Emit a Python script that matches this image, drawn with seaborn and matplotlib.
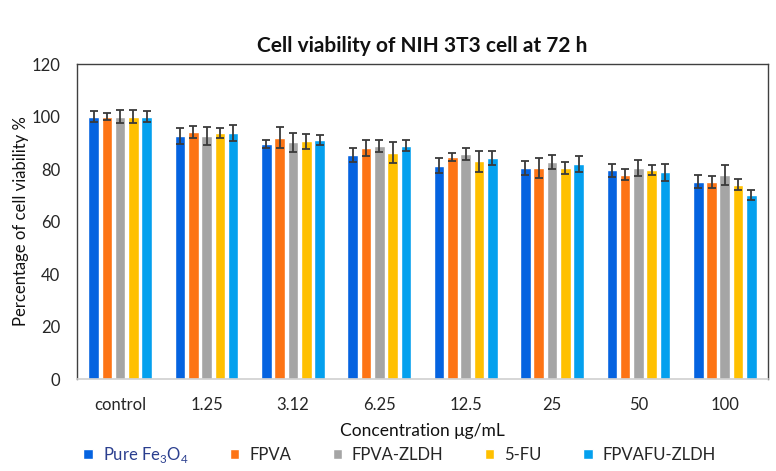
import numpy as np
import pandas as pd
import matplotlib
matplotlib.use("Agg")
import matplotlib.pyplot as plt
import seaborn as sns

concentrations = ["control", "1.25", "3.12", "6.25", "12.5", "25", "50", "100"]
materials = ["Pure Fe$_3$O$_4$", "FPVA", "FPVA-ZLDH", "5-FU", "FPVAFU-ZLDH"]

pure_fe3o4 = [100.0, 92.7, 89.5, 85.5, 81.3, 80.4, 79.5, 75.1]
fpva = [100.0, 94.1, 92.0, 88.0, 84.6, 80.3, 77.9, 75.1]
fpva_zldh = [100.0, 92.7, 90.2, 88.7, 85.7, 82.6, 80.4, 77.7]
fu5 = [100.0, 93.7, 90.6, 86.3, 82.9, 80.5, 79.5, 74.1]
fpvafu_zldh = [100.0, 93.7, 91.0, 88.9, 84.2, 81.9, 78.7, 70.0]

err_pure_fe3o4 = [2.0, 3.0, 1.6, 2.7, 2.8, 2.5, 2.5, 2.5]
err_fpva = [1.5, 2.4, 4.0, 3.0, 1.6, 3.8, 2.1, 2.4]
err_fpva_zldh = [2.6, 3.4, 3.7, 2.3, 2.3, 2.7, 3.2, 3.7]
err_fu5 = [2.6, 2.0, 2.9, 3.9, 4.0, 2.3, 1.9, 2.0]
err_fpvafu_zldh = [2.0, 3.0, 1.9, 2.2, 2.8, 3.2, 3.3, 1.9]

colors = ["#0563e0", "#fd7415", "#a5a5a5", "#ffc000", "#04a0ee"]

series = [pure_fe3o4, fpva, fpva_zldh, fu5, fpvafu_zldh]
errors = [err_pure_fe3o4, err_fpva, err_fpva_zldh, err_fu5, err_fpvafu_zldh]

rows = []
for m, vals in zip(materials, series):
    for c, v in zip(concentrations, vals):
        rows.append({"Concentration": c, "Viability": v, "Material": m})
df = pd.DataFrame(rows)

sns.set_theme(style="white")
plt.rcParams["font.family"] = ["Lato", "DejaVu Sans"]
plt.rcParams["mathtext.fontset"] = "custom"
plt.rcParams["mathtext.rm"] = "Lato"

fig = plt.figure(figsize=(7.76, 4.71), dpi=100)
ax = fig.add_axes([0.0992, 0.1953, 0.8905, 0.6687])

sns.barplot(data=df, x="Concentration", y="Viability", hue="Material",
            order=concentrations, hue_order=materials, palette=colors,
            width=0.77, gap=0.2, errorbar=None, saturation=1, ax=ax)

for cont, errs in zip(ax.containers, errors):
    for bar, e in zip(cont, errs):
        x = bar.get_x() + bar.get_width() / 2
        y = bar.get_height()
        ax.errorbar(x, y, yerr=e, fmt="none", ecolor="#3a3a3a",
                    elinewidth=1.3, capsize=3.0, capthick=1.3, zorder=5)

ax.set_xlim(-0.5, len(concentrations) - 0.5)
ax.set_ylim(0, 120)
ax.set_yticks(np.arange(0, 121, 20))
ax.tick_params(axis="both", length=0, labelsize=12, colors="#262626")
ax.tick_params(axis="x", pad=13)
ax.tick_params(axis="y", pad=12)
ax.set_xlabel("Concentration \u03bcg/mL", fontsize=12.5, color="#111111", labelpad=7)
ax.set_ylabel("Percentage of cell viability %", fontsize=12, color="#111111", labelpad=2)
ax.set_title("Cell viability of NIH 3T3 cell at 72 h", fontsize=15, fontweight="bold",
             color="#111111", pad=9)

for side in ["left", "top", "right"]:
    ax.spines[side].set_color("#404040")
    ax.spines[side].set_linewidth(1.0)
ax.spines["bottom"].set_color("#d0d0d0")
ax.spines["bottom"].set_linewidth(1.2)

handles, labels = ax.get_legend_handles_labels()
ax.get_legend().remove()
leg = fig.legend(handles, labels, loc="center", bbox_to_anchor=(0.515, 0.034), ncol=5,
                 frameon=False, fontsize=12, handlelength=0.55, handleheight=0.55,
                 handletextpad=0.6, columnspacing=2.5)
leg.get_texts()[0].set_color("#2b3f8f")

fig.savefig("out.png", dpi=100)
